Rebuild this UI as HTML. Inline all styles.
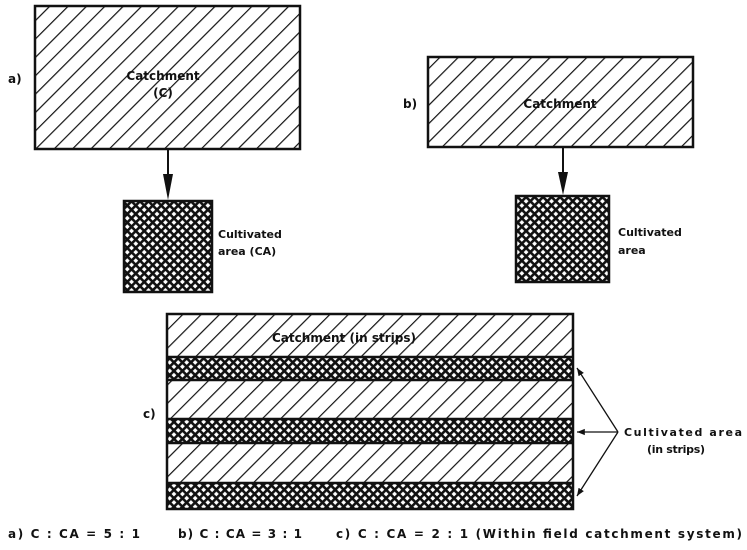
<!DOCTYPE html>
<html><head><meta charset="utf-8"><style>
html,body{margin:0;padding:0;background:#fff}
svg{display:block}
text{font-family:"DejaVu Sans","Liberation Sans",sans-serif;font-weight:bold;fill:#111}
</style></head><body>
<svg width="747" height="550" viewBox="0 0 747 550" xmlns="http://www.w3.org/2000/svg">
<defs>
<pattern id="h" width="13" height="13" patternUnits="userSpaceOnUse" patternTransform="rotate(45)">
<rect width="13" height="13" fill="#fff"/>
<line x1="0" y1="0" x2="0" y2="13" stroke="#111" stroke-width="2.4"/>
</pattern>
<pattern id="x" width="6" height="6" patternUnits="userSpaceOnUse" patternTransform="rotate(45)">
<rect width="6" height="6" fill="#fff"/>
<rect width="6" height="2.6" fill="#111"/>
<rect width="2.6" height="6" fill="#111"/>
</pattern>
<marker id="ar" viewBox="0 0 10 10" refX="10" refY="5" markerWidth="6" markerHeight="6" orient="auto">
<path d="M0,1 L10,5 L0,9 Z" fill="#111"/>
</marker>
</defs>

<!-- a -->
<rect x="35" y="6" width="265" height="143" fill="url(#h)" stroke="#111" stroke-width="2.5"/>
<text x="163" y="80" font-size="12" text-anchor="middle">Catchment</text>
<text x="163" y="97" font-size="12" text-anchor="middle">(C)</text>
<text x="8" y="83" font-size="12">a)</text>
<line x1="168" y1="149" x2="168" y2="178" stroke="#111" stroke-width="2"/>
<path d="M163,174 L173,174 L168,200 Z" fill="#111"/>
<rect x="124" y="201" width="88" height="91" fill="url(#x)" stroke="#111" stroke-width="2.5"/>
<text x="218" y="238" font-size="11">Cultivated</text>
<text x="218" y="255" font-size="11">area (CA)</text>

<!-- b -->
<rect x="428" y="57" width="265" height="90" fill="url(#h)" stroke="#111" stroke-width="2.5"/>
<text x="560" y="108" font-size="12" text-anchor="middle">Catchment</text>
<text x="403" y="108" font-size="12">b)</text>
<line x1="563" y1="147" x2="563" y2="176" stroke="#111" stroke-width="2"/>
<path d="M558,172 L568,172 L563,195 Z" fill="#111"/>
<rect x="516" y="196" width="93" height="86" fill="url(#x)" stroke="#111" stroke-width="2.5"/>
<text x="618" y="236" font-size="11">Cultivated</text>
<text x="618" y="254" font-size="11">area</text>

<!-- c -->
<rect x="167" y="314" width="406" height="43" fill="url(#h)"/>
<rect x="167" y="357" width="406" height="23" fill="url(#x)"/>
<rect x="167" y="380" width="406" height="39" fill="url(#h)"/>
<rect x="167" y="419" width="406" height="24" fill="url(#x)"/>
<rect x="167" y="443" width="406" height="40" fill="url(#h)"/>
<rect x="167" y="483" width="406" height="26" fill="url(#x)"/>
<g stroke="#111" stroke-width="2.5" fill="none">
<rect x="167" y="314" width="406" height="195"/>
<line x1="167" y1="357" x2="573" y2="357"/>
<line x1="167" y1="380" x2="573" y2="380"/>
<line x1="167" y1="419" x2="573" y2="419"/>
<line x1="167" y1="443" x2="573" y2="443"/>
<line x1="167" y1="483" x2="573" y2="483"/>
</g>
<text x="272" y="342" font-size="12" textLength="144" lengthAdjust="spacing">Catchment  (in strips)</text>
<text x="143" y="418" font-size="12">c)</text>
<g stroke="#111" stroke-width="1.3" fill="none" marker-end="url(#ar)">
<line x1="618" y1="432" x2="577" y2="368"/>
<line x1="618" y1="432" x2="577" y2="432"/>
<line x1="618" y1="432" x2="577" y2="496"/>
</g>
<text x="624" y="436" font-size="11" textLength="118" lengthAdjust="spacing">Cultivated area</text>
<text x="647" y="453" font-size="11" textLength="58" lengthAdjust="spacing">(in strips)</text>

<text x="8" y="538" font-size="12" textLength="132" lengthAdjust="spacing">a) C : CA = 5 : 1</text>
<text x="178" y="538" font-size="12" textLength="124" lengthAdjust="spacing">b) C : CA = 3 : 1</text>
<text x="336" y="538" font-size="12" textLength="406" lengthAdjust="spacing">c) C : CA = 2 : 1 (Within field catchment system)</text>
</svg>
</body></html>
